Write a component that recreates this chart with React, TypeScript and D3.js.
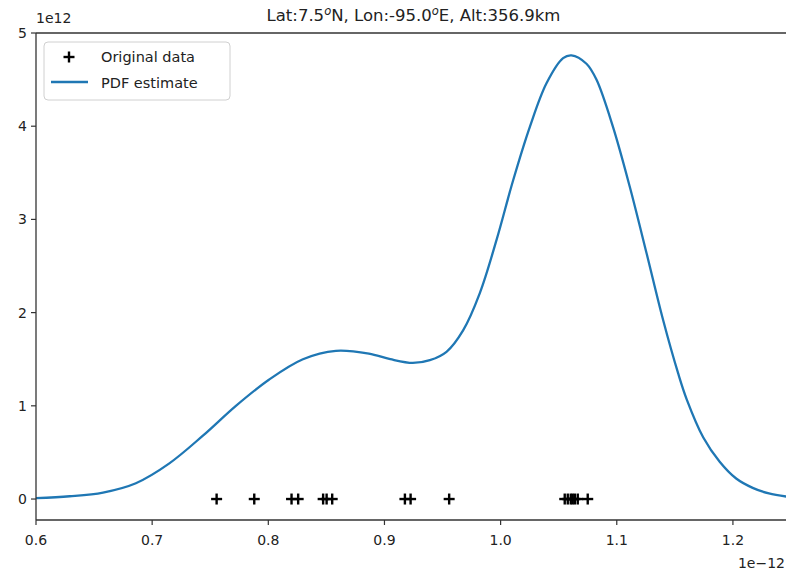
import React from "react";
import * as d3 from "d3";

// sample values (units of 1e-12)
const samples = [
  0.7555, 0.7879, 0.82, 0.8257, 0.8472, 0.8502, 0.855, 0.9176, 0.9225, 0.9557,
  1.0552, 1.0578, 1.0604, 1.0621, 1.0639, 1.0664, 1.075,
];

// pdf estimate (x in 1e-12, y in 1e12)
const pdfX = [
  0.6, 0.629, 0.6577, 0.686, 0.7145, 0.7437, 0.7721, 0.8005, 0.8298, 0.8582,
  0.8866, 0.905, 0.9244, 0.9391, 0.9534, 0.9677, 0.9821, 0.9965, 1.0108, 1.0251,
  1.0395, 1.0538, 1.061, 1.0739, 1.0825, 1.0968, 1.1112, 1.1256, 1.1399, 1.1528,
  1.1602, 1.1745, 1.1886, 1.2028, 1.217, 1.231, 1.25,
];
const pdfY = [
  0.01, 0.03, 0.07, 0.17, 0.38, 0.68, 1.0, 1.28, 1.5, 1.59,
  1.56, 1.5, 1.46, 1.49, 1.58, 1.81, 2.21, 2.78, 3.42, 3.99,
  4.46, 4.73, 4.76, 4.67, 4.5, 3.99, 3.35, 2.64, 1.92, 1.35,
  1.07, 0.66, 0.4, 0.22, 0.12, 0.06, 0.02,
];

const xTicks = [0.6, 0.7, 0.8, 0.9, 1.0, 1.1, 1.2];
const yTicks = [0, 1, 2, 3, 4, 5];

const W = 786;
const H = 576;
const left = 36;
const right = 791;
const top = 33;
const bottom = 520;
const blue = "#1f77b4";
const font = "'DejaVu Sans', sans-serif";

export default function App() {
  const x = d3.scaleLinear().domain([0.6, 1.25]).range([left, right]);
  const y = d3.scaleLinear().domain([-0.225, 5]).range([bottom, top]);

  const line = d3
    .line<number>()
    .x((d, i) => x(pdfX[i]))
    .y((d) => y(d))
    .curve(d3.curveCatmullRom.alpha(0.5));

  const plus = (cx: number, cy: number, k: number) => (
    <g key={k} stroke="#000" strokeWidth={2.4}>
      <line x1={cx - 5.5} x2={cx + 5.5} y1={cy} y2={cy} />
      <line x1={cx} x2={cx} y1={cy - 5.5} y2={cy + 5.5} />
    </g>
  );

  return (
    <svg
      width={W}
      height={H}
      style={{ position: "absolute", left: 0, top: 0, background: "#fff" }}
      fontFamily={font}
    >
      <defs>
        <clipPath id="plot">
          <rect x={left} y={top} width={right - left} height={bottom - top} />
        </clipPath>
      </defs>

      <g clipPath="url(#plot)">
        <path d={line(pdfY) || ""} fill="none" stroke={blue} strokeWidth={2.3} />
        {samples.map((s, i) => plus(x(s), y(0), i))}
      </g>

      {/* spines */}
      <line x1={left} x2={left} y1={top} y2={bottom} stroke="#333" strokeWidth={1.3} />
      <line x1={left} x2={W} y1={bottom} y2={bottom} stroke="#333" strokeWidth={1.3} />
      <line x1={left} x2={W} y1={top} y2={top} stroke="#333" strokeWidth={1.3} />

      {/* x axis */}
      {xTicks.map((t) => (
        <g key={t}>
          <line x1={x(t)} x2={x(t)} y1={bottom} y2={bottom + 5} stroke="#333" strokeWidth={1.2} />
          <text x={x(t)} y={545} fontSize={14} textAnchor="middle" fill="#222">
            {t.toFixed(1)}
          </text>
        </g>
      ))}
      <text x={785} y={568} fontSize={14} textAnchor="end" fill="#222">
        1e−12
      </text>

      {/* y axis */}
      {yTicks.map((t) => (
        <g key={t}>
          <line x1={left - 5} x2={left} y1={y(t)} y2={y(t)} stroke="#333" strokeWidth={1.2} />
          <text x={left - 9} y={y(t) + 5} fontSize={14} textAnchor="end" fill="#222">
            {t}
          </text>
        </g>
      ))}
      <text x={36} y={23} fontSize={14} fill="#222">
        1e12
      </text>

      {/* title */}
      <text x={(left + right) / 2} y={21} fontSize={16.5} textAnchor="middle" fill="#222">
        Lat:7.5<tspan dy={-6} fontSize={11.5} fontStyle="italic">o</tspan>
        <tspan dy={6}>N, Lon:-95.0</tspan>
        <tspan dy={-6} fontSize={11.5} fontStyle="italic">o</tspan>
        <tspan dy={6}>E, Alt:356.9km</tspan>
      </text>

      {/* legend */}
      <rect x={44} y={42} width={186} height={58} rx={4} fill="#fff" fillOpacity={0.8} stroke="#d0d0d0" />
      {plus(69, 57, 99)}
      <text x={101} y={62} fontSize={14.5} fill="#222">
        Original data
      </text>
      <line x1={51} x2={88} y1={82} y2={82} stroke={blue} strokeWidth={2.3} />
      <text x={101} y={88} fontSize={14.5} fill="#222">
        PDF estimate
      </text>
    </svg>
  );
}
